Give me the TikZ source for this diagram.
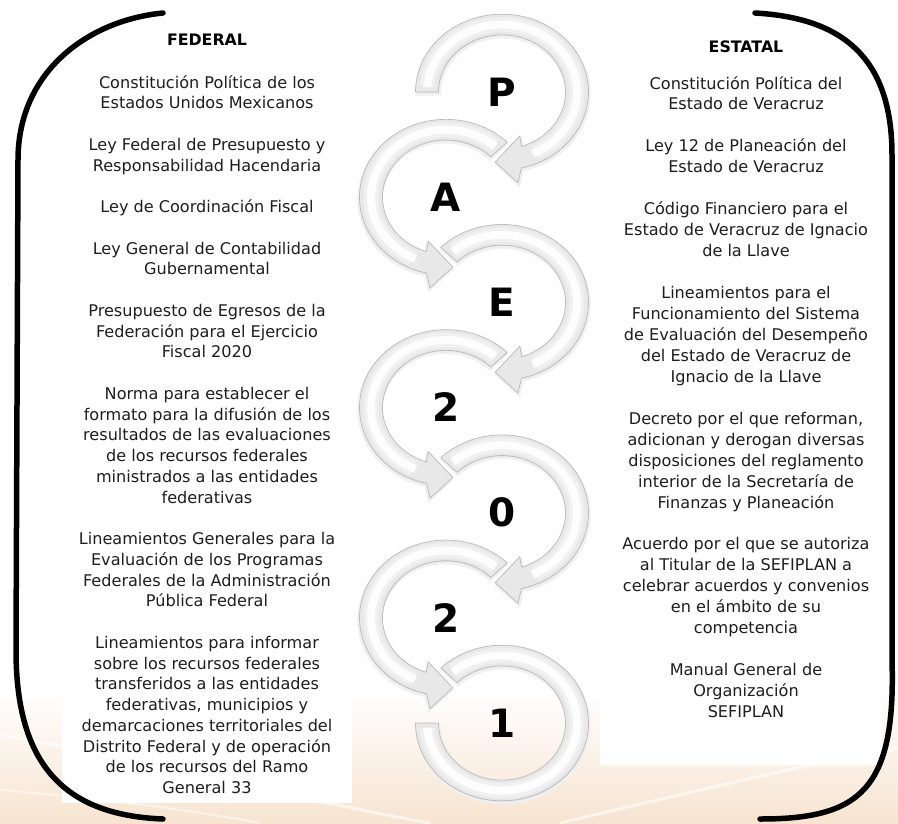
\documentclass[tikz,border=0pt]{standalone}
\usepackage{fontspec}
\setmainfont{DejaVu Sans}
\definecolor{peach}{RGB}{247,228,209}
\definecolor{txtc}{RGB}{30,30,30}
\newcommand\fst{\rule{0pt}{15pt}}
\newcommand\cwarrow[4]{% x, y, start angle, xscale
\begin{scope}[shift={(#1,#2)}, yscale=0.9, xscale=#4]
 \path[bandshadow, shift={(1,2.5)}] (#3:86.5) -- plot[domain=#3:437,samples=70] (\x:86.5) -- (441:102) -- (455:78) -- (430:52) -- (432:63.5) -- plot[domain=432:#3,samples=70] (\x:63.5) -- cycle;
 \path[bandfill] (#3:86.5) -- plot[domain=#3:437,samples=70] (\x:86.5) -- (441:102) -- (455:78) -- (430:52) -- (432:63.5) -- plot[domain=432:#3,samples=70] (\x:63.5) -- cycle;
 \draw[bandhlb] plot[domain=#3+5:424,samples=60] (\x:75);
 \draw[bandhl] plot[domain=#3+4:426,samples=60] (\x:75);
\end{scope}}
\begin{document}
\begin{tikzpicture}[x=1pt,y=-1pt,
  txtL/.style={anchor=north, inner sep=0pt, align=center, text=txtc, font=\fontsize{16.1}{20.75}\selectfont},
  txtR/.style={anchor=north, inner sep=0pt, align=center, text=txtc, font=\fontsize{16.1}{20.95}\selectfont},
  head/.style={inner sep=0pt, text=black, font=\fontsize{15.8}{18}\selectfont\bfseries},
  letter/.style={inner sep=0pt, text=black, font=\fontsize{39}{39}\selectfont\bfseries},
  bandfill/.style={fill=gray!18, draw=gray!55, line width=0.7pt},
  bandshadow/.style={fill=black!10, draw=black!6, line width=2.5pt},
  bandhl/.style={draw=white, line width=8pt, opacity=0.9},
  bandhlb/.style={draw=white, line width=15pt, opacity=0.35},
  bracket/.style={draw=black, line width=5.5pt, line cap=round}]

\useasboundingbox (0,0) rectangle (898,823);
\fill[white] (0,0) rectangle (898,823);
\shade[top color=white, bottom color=peach] (0,690) rectangle (898,823);
\draw[white, line width=3pt, opacity=0.6] (0,735) .. controls (150,760) and (300,800) .. (430,823);
\draw[white, line width=2pt, opacity=0.5] (0,790) .. controls (120,800) and (200,812) .. (260,823);
\draw[white, line width=3pt, opacity=0.6] (560,823) .. controls (680,795) and (800,765) .. (898,748);
\fill[white] (62,18) rectangle (352,803);
\fill[white] (600,18) rectangle (882,765);

% ring and arrows
\begin{scope}[shift={(502,723)}, yscale=0.9]
 \path[bandshadow, shift={(1,2.5)}] (225:86.5) -- plot[domain=225:540,samples=90] (\x:86.5) -- (540:63.5) -- plot[domain=540:225,samples=90] (\x:63.5) -- cycle;
 \path[bandfill] (225:86.5) -- plot[domain=225:540,samples=90] (\x:86.5) -- (540:63.5) -- plot[domain=540:225,samples=90] (\x:63.5) -- cycle;
 \draw[bandhlb] plot[domain=230:535,samples=80] (\x:75);
 \draw[bandhl] plot[domain=229:536,samples=80] (\x:75);
\end{scope}
\cwarrow{446}{617.9}{225}{-1}
\cwarrow{502}{512.7}{225}{1}
\cwarrow{446}{407.5}{225}{-1}
\cwarrow{502}{302.3}{225}{1}
\cwarrow{446}{197.2}{225}{-1}
\cwarrow{502}{92}{180}{1}

\node[letter] (lP) at (502,92) {P};
\node[letter] (lA) at (446,197.2) {A};
\node[letter] (lE) at (502,302.3) {E};
\node[letter] (l2a) at (446,407.5) {2};
\node[letter] (l0) at (502,512.7) {0};
\node[letter] (l2b) at (446,617.9) {2};
\node[letter] (l1) at (502,723) {1};

% brackets
\draw[bracket] (163,13) .. controls (90,20) and (18,70) .. (18,160) -- (16,650) .. controls (16,760) and (60,815) .. (163,819);
\draw[bracket] (755,13) .. controls (845,18) and (892,60) .. (892,155) -- (892,660) .. controls (896,790) and (860,819) .. (760,819);

% headings
\node[head] (hf) at (207,40) {FEDERAL};
\node[head] (he) at (746,47) {ESTATAL};

% federal column
\node[txtL] (f1) at (207,72.8) {\fst Constitución Política de los\\Estados Unidos Mexicanos};
\node[txtL] (f2) at (207,135.05) {\fst Ley Federal de Presupuesto y\\Responsabilidad Hacendaria};
\node[txtL] (f3) at (207,197.3) {\fst Ley de Coordinación Fiscal};
\node[txtL] (f4) at (207,238.8) {\fst Ley General de Contabilidad\\Gubernamental};
\node[txtL] (f5) at (207,301.05) {\fst Presupuesto de Egresos de la\\Federación para el Ejercicio\\Fiscal 2020};
\node[txtL] (f6) at (207,384.05) {\fst Norma para establecer el\\formato para la difusión de los\\resultados de las evaluaciones\\de los recursos federales\\ministrados a las entidades\\federativas};
\node[txtL] (f7) at (207,529.3) {\fst Lineamientos Generales para la\\Evaluación de los Programas\\Federales de la Administración\\Pública Federal};
\node[txtL] (f8) at (207,633.05) {\fst Lineamientos para informar\\sobre los recursos federales\\transferidos a las entidades\\federativas, municipios y\\demarcaciones territoriales del\\Distrito Federal y de operación\\de los recursos del Ramo\\General 33};

% estatal column
\node[txtR] (e1) at (746,73.8) {\fst Constitución Política del\\Estado de Veracruz};
\node[txtR] (e2) at (746,136.65) {\fst Ley 12 de Planeación del\\Estado de Veracruz};
\node[txtR] (e3) at (746,199.5) {\fst Código Financiero para el\\Estado de Veracruz de Ignacio\\de la Llave};
\node[txtR] (e4) at (746,283.3) {\fst Lineamientos para el\\Funcionamiento del Sistema\\de Evaluación del Desempeño\\del Estado de Veracruz de\\Ignacio de la Llave};
\node[txtR] (e5) at (746,409) {\fst Decreto por el que reforman,\\adicionan y derogan diversas\\disposiciones del reglamento\\interior de la Secretaría de\\Finanzas y Planeación};
\node[txtR] (e6) at (746,534.7) {\fst Acuerdo por el que se autoriza\\al Titular de la SEFIPLAN a\\celebrar acuerdos y convenios\\en el ámbito de su\\competencia};
\node[txtR] (e7) at (746,660.4) {\fst Manual General de\\Organización\\SEFIPLAN};
\end{tikzpicture}
\end{document}
